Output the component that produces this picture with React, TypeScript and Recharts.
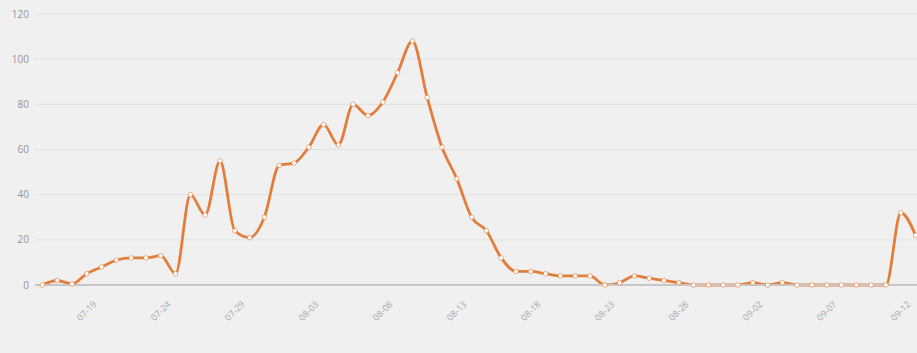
import { CartesianGrid, Line, LineChart, XAxis, YAxis } from "recharts";

const DATES = [
  "07-16", "07-17", "07-18", "07-19", "07-20", "07-21", "07-22", "07-23",
  "07-24", "07-25", "07-26", "07-27", "07-28", "07-29", "07-30", "07-31",
  "08-01", "08-02", "08-03", "08-04", "08-05", "08-06", "08-07", "08-08",
  "08-09", "08-10", "08-11", "08-12", "08-13", "08-14", "08-15", "08-16",
  "08-17", "08-18", "08-19", "08-20", "08-21", "08-22", "08-23", "08-24",
  "08-25", "08-26", "08-27", "08-28", "08-29", "08-30", "08-31", "09-01",
  "09-02", "09-03", "09-04", "09-05", "09-06", "09-07", "09-08", "09-09",
  "09-10", "09-11", "09-12", "09-13",
];

const VALUES = [
  0, 2, 0.5, 5, 8, 11, 12, 12, 13, 5, 40, 31, 55, 24, 21, 30,
  53, 54, 61, 71, 62, 80, 75, 81, 94, 108, 83, 61, 47, 30, 24, 12,
  6, 6, 5, 4, 4, 4, 0, 1, 4, 3, 2, 1, 0, 0, 0, 0,
  1, 0, 1, 0, 0, 0, 0, 0, 0, 0, 32, 22,
];

const X_TICKS = [
  "07-19", "07-24", "07-29", "08-03", "08-08", "08-13",
  "08-18", "08-23", "08-28", "09-02", "09-07", "09-12",
];

const Y_TICKS = [0, 20, 40, 60, 80, 100, 120];

const ORANGE = "#e37d3c";

const data = DATES.map((date, i) => ({ date, value: VALUES[i] }));

function DateTick({ x, y, payload }: any) {
  if (!X_TICKS.includes(payload.value)) return null;
  const cy = y + 18;
  return (
    <text
      x={x}
      y={cy}
      dy={3}
      textAnchor="middle"
      fontSize={9}
      fill="#a8a8a8"
      transform={`rotate(-45, ${x}, ${cy})`}
    >
      {payload.value}
    </text>
  );
}

export default function App() {
  return (
    <div
      style={{
        position: "fixed",
        left: 0,
        top: 0,
        width: 917,
        height: 353,
        overflow: "hidden",
        background: "#f0f0f0",
        fontFamily: "'Open Sans', sans-serif",
      }}
    >
      <LineChart
        width={923}
        height={353}
        data={data}
        margin={{ top: 14, right: 0, bottom: 0, left: 0 }}
      >
        <CartesianGrid vertical={false} stroke="#e1e1e1" />
        <XAxis
          dataKey="date"
          interval={0}
          height={68}
          padding={{ left: 7.4, right: 7.4 }}
          tickLine={false}
          axisLine={{ stroke: "#c6c6c6", strokeWidth: 2 }}
          tick={<DateTick />}
        />
        <YAxis
          width={35}
          domain={[0, 120]}
          ticks={Y_TICKS}
          tickLine={false}
          axisLine={false}
          tickSize={0}
          tickMargin={6}
          tick={{ fontSize: 10, fill: "#959595" }}
        />
        <Line
          type="monotone"
          dataKey="value"
          stroke={ORANGE}
          strokeWidth={2.8}
          dot={{ r: 2.3, fill: "#fff", stroke: ORANGE, strokeWidth: 0.6 }}
          isAnimationActive={false}
        />
      </LineChart>
    </div>
  );
}
